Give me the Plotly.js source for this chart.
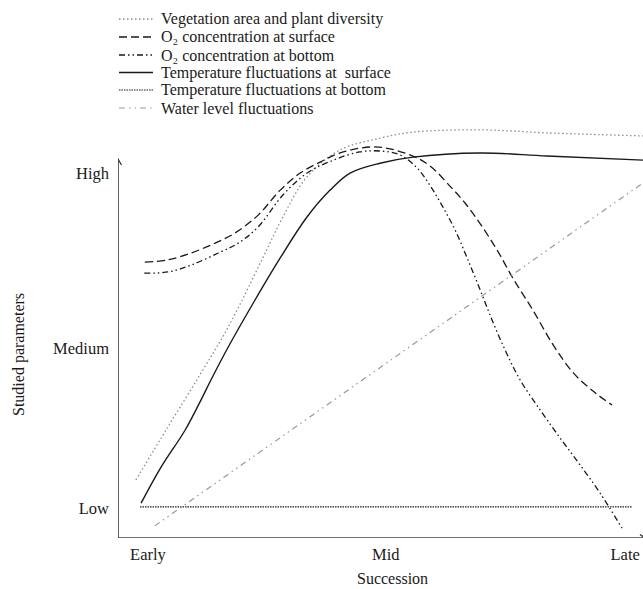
<!DOCTYPE html>
<html>
<head>
<meta charset="utf-8">
<script src="https://cdn.plot.ly/plotly-3.0.1.min.js"></script>
<style>html,body{margin:0;padding:0;background:#fff;}#chart{width:643px;height:589px;}</style>
</head>
<body>
<div id="chart"></div>
<script>
// ---- Data (abstract 0–100 scale on both axes) ----
const successionLabels = ['Early', 'Mid', 'Late'];
const successionTicks = [5.7, 51.0, 96.6];
const levelLabels = ['Low', 'Medium', 'High'];
const levelTicks = [7.9, 50.1, 96.3];

const seriesNames = [
  'Vegetation area and plant diversity',
  'O₂ concentration at surface',
  'O₂ concentration at bottom',
  'Temperature fluctuations at  surface',
  'Temperature fluctuations at bottom',
  'Water level fluctuations'
];

const vegX = [3.4, 9.5, 15.8, 21.0, 27.4, 31.4, 36.0, 42.3, 49.9, 56.2, 69.0, 81.7, 100];
const vegY = [15.3, 29.3, 43.5, 55.7, 73.4, 84.7, 95.3, 102.4, 105.5, 107.1, 107.7, 106.9, 106.1];

const o2SurfX = [5.1, 9.5, 13.9, 18.5, 22.3, 26.7, 30.9, 34.7, 38.5, 42.3, 49.0, 55.6, 59.4, 63.4, 66.1, 69.0, 72.2, 75.2, 79.0, 83.0, 86.9, 90.9, 94.1];
const o2SurfY = [72.8, 73.4, 75.2, 77.8, 80.5, 85.2, 91.8, 96.3, 99.2, 101.6, 103.2, 101.1, 98.2, 92.6, 88.4, 82.9, 76.0, 68.6, 60.2, 50.7, 43.3, 38.3, 35.1];

const o2BotX = [5.0, 9.5, 13.9, 19.1, 22.9, 26.7, 31.4, 36.0, 41.0, 46.1, 50.1, 53.7, 57.0, 59.4, 61.9, 64.2, 66.5, 69.0, 71.4, 73.9, 76.6, 80.4, 84.2, 88.0, 91.8, 96.0];
const o2BotY = [69.9, 70.2, 72.0, 75.2, 77.8, 82.1, 90.5, 96.3, 99.7, 101.9, 102.1, 101.1, 97.6, 93.1, 87.3, 81.3, 73.9, 65.4, 57.0, 49.1, 41.7, 33.8, 26.4, 19.3, 11.9, 2.6];

const tempSurfX = [4.4, 8.2, 12.8, 15.8, 17.7, 21.0, 26.1, 30.9, 36.0, 40.4, 44.2, 49.9, 56.2, 69.0, 81.7, 100];
const tempSurfY = [9.2, 18.7, 28.5, 36.4, 41.7, 50.4, 62.8, 73.9, 84.7, 91.8, 96.3, 98.9, 100.5, 101.6, 100.8, 99.7];

const tempBotX = [4.2, 97.9];
const tempBotY = [8.2, 8.2];

const waterX = [7.0, 100];
const waterY = [3.2, 93.7];

// ---- Styles ----
const FONT = 'Liberation Serif';
const TXT = '#1a1a1a';
const styles = [
  {color: '#8c8c8c', width: 1.3, dash: '1.5px,2.5px', shape: 'spline'},
  {color: '#1a1a1a', width: 1.3, dash: '8px,4px', shape: 'spline'},
  {color: '#1a1a1a', width: 1.3, dash: '6px,3px,1.5px,3px,1.5px,3px', shape: 'spline'},
  {color: '#1a1a1a', width: 1.4, dash: 'solid', shape: 'spline'},
  {color: '#1a1a1a', width: 1.1, dash: '1.5px,1px', shape: 'linear'},
  {color: '#999999', width: 1.2, dash: '6px,4px,1.5px,4px,1.5px,4px', shape: 'linear'}
];
const xs = [vegX, o2SurfX, o2BotX, tempSurfX, tempBotX, waterX];
const ys = [vegY, o2SurfY, o2BotY, tempSurfY, tempBotY, waterY];

const traces = xs.map((x, i) => ({
  type: 'scatter', mode: 'lines', x: x, y: ys[i], name: seriesNames[i],
  showlegend: false, hoverinfo: 'skip',
  line: {color: styles[i].color, width: styles[i].width, dash: styles[i].dash,
         shape: styles[i].shape, smoothing: 1}
}));

// ---- Layout geometry (pixels) ----
const W = 643, H = 589, ML = 118, MR = 0, MT = 120, MB = 51;
const pw = W - ML - MR, ph = H - MT - MB;
const px2x = p => (p - ML) / pw;
const py2y = p => (H - MB - p) / ph;

const legendRows = [19, 37, 55, 72.5, 90, 108];
const shapes = [];
const annotations = [];
legendRows.forEach((r, i) => {
  shapes.push({type: 'line', xref: 'paper', yref: 'paper',
    x0: px2x(119), x1: px2x(153), y0: py2y(r), y1: py2y(r),
    line: {color: styles[i].color, width: styles[i].width, dash: styles[i].dash}});
  annotations.push({xref: 'paper', yref: 'paper', x: px2x(159), y: py2y(r),
    xanchor: 'left', yanchor: 'middle', showarrow: false, text: seriesNames[i],
    font: {family: FONT, size: 16, color: TXT}});
});

// axis lines with open arrowheads
const AX = {color: '#444444', width: 1.7};
shapes.push({type: 'line', xref: 'x', yref: 'y', x0: 0, x1: 0, y0: 0, y1: 100, line: AX});
shapes.push({type: 'line', xref: 'x', yref: 'y', x0: 0, x1: 100, y0: 0, y1: 0, line: AX});
shapes.push({type: 'path', xref: 'x', yref: 'y', xsizemode: 'pixel', ysizemode: 'pixel',
  xanchor: 0, yanchor: 100, path: 'M-3.5,-6L0,0L3.5,-6', fillcolor: 'rgba(0,0,0,0)',
  line: {color: '#333333', width: 1.3}});
shapes.push({type: 'path', xref: 'x', yref: 'y', xsizemode: 'pixel', ysizemode: 'pixel',
  xanchor: 100, yanchor: 0, path: 'M-3,3.5L2,0L-3,-3.5', fillcolor: 'rgba(0,0,0,0)',
  line: {color: '#333333', width: 1.3}});

// axis titles
annotations.push({xref: 'paper', yref: 'paper', x: px2x(392), y: py2y(578), xanchor: 'center', yanchor: 'middle',
  showarrow: false, text: 'Succession', font: {family: FONT, size: 16, color: TXT}});
annotations.push({xref: 'paper', yref: 'paper', x: px2x(19), y: py2y(355), xanchor: 'center', yanchor: 'middle',
  showarrow: false, textangle: -90, text: 'Studied parameters', font: {family: FONT, size: 16, color: TXT}});

const layout = {
  width: W, height: H,
  margin: {l: ML, r: MR, t: MT, b: MB, pad: 0},
  paper_bgcolor: '#ffffff', plot_bgcolor: '#ffffff',
  showlegend: false,
  font: {family: FONT, color: TXT},
  xaxis: {range: [0, 100], showgrid: false, zeroline: false, showline: false, ticks: '',
    tickmode: 'array', tickvals: successionTicks, ticktext: successionLabels,
    tickfont: {family: FONT, size: 16.5, color: TXT}, ticklabelstandoff: 4, fixedrange: true},
  yaxis: {range: [0, 110.3], showgrid: false, zeroline: false, showline: false, ticks: '',
    tickmode: 'array', tickvals: levelTicks, ticktext: levelLabels,
    tickfont: {family: FONT, size: 16.5, color: TXT}, ticklabelstandoff: 8, fixedrange: true},
  shapes: shapes,
  annotations: annotations
};

Plotly.newPlot('chart', traces, layout, {displayModeBar: false, staticPlot: true});
</script>
</body>
</html>
